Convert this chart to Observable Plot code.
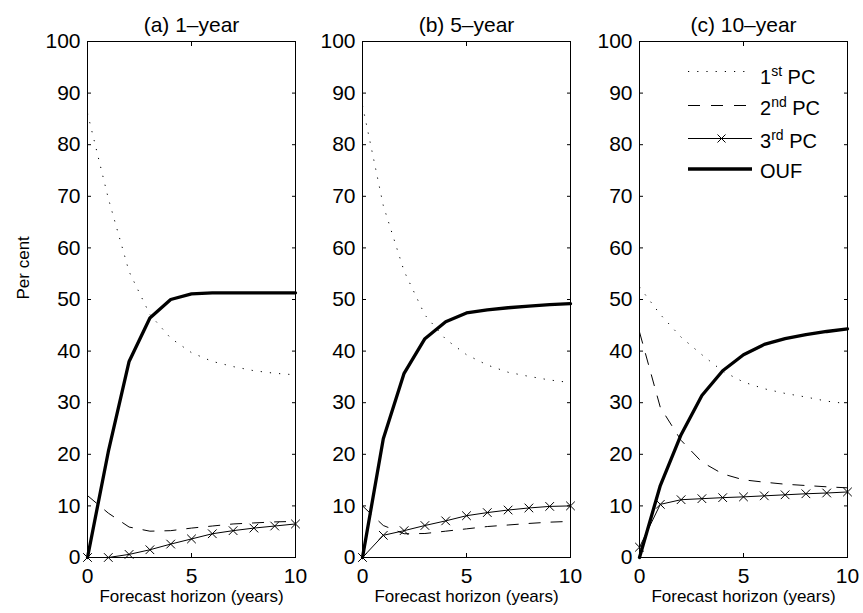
<!DOCTYPE html>
<html><head><meta charset="utf-8">
<script src="https://cdn.jsdelivr.net/npm/d3@7"></script>
<script src="https://cdn.jsdelivr.net/npm/@observablehq/plot@0.6"></script>
<style>
html,body{margin:0;padding:0;background:#fff;overflow:hidden;}
#chart{position:relative;width:863px;height:613px;font-family:Arial,"Liberation Sans",Helvetica,sans-serif;}
#chart > svg{position:absolute;top:0;}
</style></head><body><div id="chart"></div>
<script>
// ---- data ----
const years = [0, 1, 2, 3, 4, 5, 6, 7, 8, 9, 10];
const panelTitles = ["(a) 1\u2013year", "(b) 5\u2013year", "(c) 10\u2013year"];

const pc1_1yr = [86.1, 69.6, 55.4, 47.1, 42.5, 39.7, 38.0, 37.0, 36.2, 35.7, 35.4];
const pc2_1yr = [12.0, 8.6, 5.9, 5.1, 5.2, 5.7, 6.1, 6.5, 6.7, 6.9, 7.0];
const pc3_1yr = [0.0, 0.0, 0.6, 1.5, 2.6, 3.6, 4.6, 5.2, 5.7, 6.1, 6.5];
const ouf_1yr = [0.0, 20.5, 38.0, 46.4, 50.0, 51.1, 51.3, 51.3, 51.3, 51.3, 51.3];

const pc1_5yr = [87.6, 68.2, 55.5, 47.0, 42.3, 39.3, 37.3, 35.9, 35.1, 34.4, 33.9];
const pc2_5yr = [10.0, 6.2, 4.6, 4.65, 5.1, 5.55, 6.0, 6.3, 6.6, 6.85, 7.0];
const pc3_5yr = [0.0, 4.3, 5.2, 6.2, 7.1, 8.1, 8.7, 9.2, 9.6, 9.9, 10.0];
const ouf_5yr = [0.0, 23.0, 35.7, 42.4, 45.7, 47.4, 48.0, 48.4, 48.7, 49.0, 49.2];

const pc1_10yr = [52.4, 47.1, 42.7, 39.3, 36.1, 34.0, 32.7, 31.8, 31.1, 30.3, 29.8];
const pc2_10yr = [43.7, 29.1, 22.7, 18.5, 16.2, 15.05, 14.6, 14.2, 13.95, 13.7, 13.5];
const pc3_10yr = [2.0, 10.3, 11.2, 11.4, 11.6, 11.75, 11.95, 12.15, 12.35, 12.5, 12.7];
const ouf_10yr = [0.0, 13.95, 23.8, 31.4, 36.2, 39.3, 41.3, 42.4, 43.2, 43.8, 44.3];

const xTicks = [0, 5, 10];
const yTicks = [0, 10, 20, 30, 40, 50, 60, 70, 80, 90, 100];
const xLabel = "Forecast horizon (years)";
const yLabel = "Per cent";
const legendItems = [["1", "st", " PC"], ["2", "nd", " PC"], ["3", "rd", " PC"], ["OUF", "", ""]];

// ---- drawing ----
const FONT = "Arial, 'Liberation Sans', Helvetica, sans-serif";
const panels = [
  {title: panelTitles[0], s: [pc1_1yr, pc2_1yr, pc3_1yr, ouf_1yr], left: 0},
  {title: panelTitles[1], s: [pc1_5yr, pc2_5yr, pc3_5yr, ouf_5yr], left: 275},
  {title: panelTitles[2], s: [pc1_10yr, pc2_10yr, pc3_10yr, ouf_10yr], left: 552}
];
const chart = document.getElementById("chart");
const rows = (arr) => years.map((x, j) => ({x, y: arr[j]}));

panels.forEach((p, i) => {
  const [pc1, pc2, pc3, ouf] = p.s;
  const mL = 87, W = 208, mR = 16;
  const marks = [
    Plot.line(rows(pc1), {x: "x", y: "y", stroke: "#000", strokeWidth: 1, strokeDasharray: "1.2,8", strokeLinecap: "butt"}),
    Plot.line(rows(pc2), {x: "x", y: "y", stroke: "#000", strokeWidth: 1, strokeDasharray: "12,10", strokeLinecap: "butt"}),
    Plot.line(rows(pc3), {x: "x", y: "y", stroke: "#000", strokeWidth: 1}),
    Plot.dot(rows(pc3), {x: "x", y: "y", symbol: "times", r: 4, stroke: "#000", strokeWidth: 1}),
    Plot.line(rows(ouf), {x: "x", y: "y", stroke: "#000", strokeWidth: 3.3}),
    Plot.frame({stroke: "#000", strokeWidth: 1}),
    Plot.axisX({anchor: "bottom", ticks: xTicks, tickSize: -4, tickPadding: 15, label: null}),
    Plot.axisX({anchor: "top", ticks: xTicks, tickSize: -4, tickFormat: () => "", label: null}),
    Plot.axisY({anchor: "left", ticks: yTicks, tickSize: -4, tickPadding: 11, label: null}),
    Plot.axisY({anchor: "right", ticks: yTicks, tickSize: -4, tickFormat: () => "", label: null}),
    Plot.text([p.title], {frameAnchor: "top", dy: -24, fontSize: 21, fill: "#000"}),
    Plot.text([xLabel], {frameAnchor: "bottom", dy: 44, fontSize: 17, fill: "#000"})
  ];
  if (i === 0) marks.push(Plot.text([yLabel], {frameAnchor: "left", dx: -64, rotate: -90, fontSize: 17, fill: "#000"}));
  const svg = Plot.plot({
    width: mL + W + mR, height: 613,
    marginLeft: mL, marginRight: mR, marginTop: 41, marginBottom: 56,
    style: {background: "transparent", overflow: "visible", fontFamily: FONT, fontSize: "21px", color: "#000"},
    x: {domain: [0, 10], label: null},
    y: {domain: [0, 100], label: null},
    marks
  });
  svg.style.left = p.left + "px";
  chart.appendChild(svg);
});

// legend (panel c)
const ns = "http://www.w3.org/2000/svg";
const lg = document.createElementNS(ns, "svg");
lg.setAttribute("width", 863); lg.setAttribute("height", 613);
lg.style.left = "0px"; lg.style.pointerEvents = "none";
const rowY = [71.5, 105.5, 138.5, 169];
const styles = [
  {w: 1, dash: "1.2,8"}, {w: 1, dash: "12,11"}, {w: 1, dash: null, marker: true}, {w: 3.3, dash: null}
];
legendItems.forEach((it, k) => {
  const y = rowY[k];
  const ln = document.createElementNS(ns, "line");
  ln.setAttribute("x1", 688); ln.setAttribute("x2", 752);
  ln.setAttribute("y1", y); ln.setAttribute("y2", y);
  ln.setAttribute("stroke", "#000"); ln.setAttribute("stroke-width", styles[k].w);
  if (styles[k].dash) ln.setAttribute("stroke-dasharray", styles[k].dash);
  lg.appendChild(ln);
  if (styles[k].marker) {
    const m = document.createElementNS(ns, "path");
    const cx = 721.5, h = 4;
    m.setAttribute("d", `M${cx-h},${y-h}L${cx+h},${y+h}M${cx-h},${y+h}L${cx+h},${y-h}`);
    m.setAttribute("stroke", "#000"); m.setAttribute("fill", "none");
    lg.appendChild(m);
  }
  const t = document.createElementNS(ns, "text");
  t.setAttribute("x", 760); t.setAttribute("y", y + (k === 0 ? 12 : 9));
  t.setAttribute("font-family", FONT); t.setAttribute("font-size", 20); t.setAttribute("fill", "#000");
  const a = document.createElementNS(ns, "tspan"); a.textContent = it[0]; t.appendChild(a);
  if (it[1]) {
    const s = document.createElementNS(ns, "tspan");
    s.textContent = it[1]; s.setAttribute("font-size", 14); s.setAttribute("dy", -8);
    t.appendChild(s);
    const c = document.createElementNS(ns, "tspan");
    c.textContent = "\u00a0PC"; c.setAttribute("dy", 8);
    t.appendChild(c);
  }
  lg.appendChild(t);
});
chart.appendChild(lg);
</script></body></html>
